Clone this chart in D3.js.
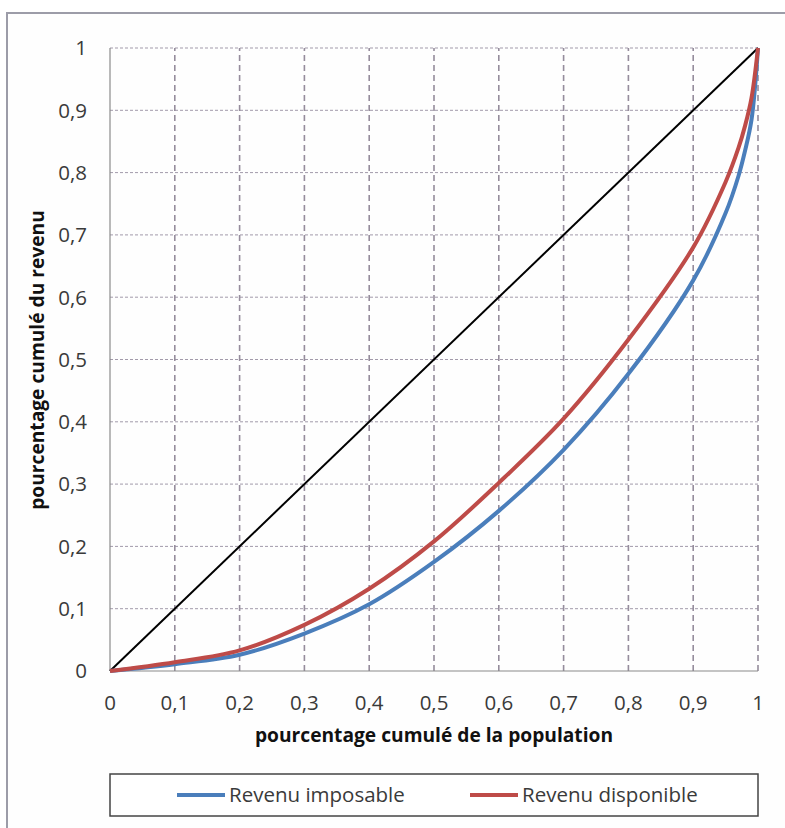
<!DOCTYPE html>
<html><head><meta charset="utf-8">
<script src="https://cdn.jsdelivr.net/npm/d3@7"></script>
<style>
html,body{margin:0;padding:0;background:#fff;}
svg{display:block;}
text{font-family:"Open Sans", sans-serif;}
</style></head>
<body>
<svg id="chart" width="785" height="828"></svg>
<script>
// Data
const xTicks = [0,0.1,0.2,0.3,0.4,0.5,0.6,0.7,0.8,0.9,1];
const yTicks = [0,0.1,0.2,0.3,0.4,0.5,0.6,0.7,0.8,0.9,1];
const popShare = [0,0.1,0.2,0.3,0.4,0.5,0.6,0.7,0.8,0.9,0.95,0.97,0.98,0.99,1];
const revenuImposable = [0,0.011,0.026,0.06,0.107,0.175,0.257,0.355,0.477,0.627,0.735,0.795,0.835,0.885,1];
const revenuDisponible = [0,0.014,0.033,0.074,0.132,0.208,0.302,0.405,0.532,0.68,0.785,0.84,0.875,0.92,1];
const egalite = [[0,0],[1,1]];
const seriesNames = ["Revenu imposable","Revenu disponible"];
const seriesColors = ["#4a7ebb","#be4b48"];
const xTitle = "pourcentage cumulé de la population";
const yTitle = "pourcentage cumulé du revenu";

const svg = d3.select("#chart");
const fmt = v => String(v).replace(".", ",");

// outer frame
svg.append("rect").attr("x",7).attr("y",13).attr("width",800).attr("height",840)
  .attr("fill","#fefefe").attr("stroke","#9c9ca8").attr("stroke-width",2);

const x = d3.scaleLinear().domain([0,1]).range([110,758]);
const y = d3.scaleLinear().domain([0,1]).range([671,48]);

// horizontal grid
svg.append("g").selectAll("line").data(yTicks.filter(d=>d>0)).join("line")
  .attr("x1",x(0)).attr("x2",x(1)).attr("y1",d=>y(d)).attr("y2",d=>y(d))
  .attr("stroke","#a29aaa").attr("stroke-width",1).attr("stroke-dasharray","3,2");
// vertical grid
svg.append("g").selectAll("line").data(xTicks.filter(d=>d>0)).join("line")
  .attr("x1",d=>x(d)).attr("x2",d=>x(d)).attr("y1",y(0)).attr("y2",y(1))
  .attr("stroke","#958c9c").attr("stroke-width",1.6).attr("stroke-dasharray","6,4");

// axes lines
svg.append("line").attr("x1",x(0)).attr("x2",x(0)).attr("y1",y(0)).attr("y2",y(1))
  .attr("stroke","#8a8a8a").attr("stroke-width",1.2);
svg.append("line").attr("x1",x(0)).attr("x2",x(1)).attr("y1",y(0)).attr("y2",y(0))
  .attr("stroke","#8a8a8a").attr("stroke-width",1.2);

// tick labels
svg.append("g").selectAll("text").data(yTicks).join("text")
  .attr("x",87).attr("y",d=>y(d)).attr("dy","0.36em").attr("text-anchor","end")
  .attr("font-size",20.5).attr("fill","#3a3a3a").text(fmt);
svg.append("g").selectAll("text").data(xTicks).join("text")
  .attr("x",d=>x(d)).attr("y",703).attr("dy","0.36em").attr("text-anchor","middle")
  .attr("font-size",20.5).attr("fill","#3a3a3a").text(fmt);

// titles
svg.append("text").attr("x",434).attr("y",742).attr("text-anchor","middle")
  .attr("font-size",19.2).attr("font-weight","bold").attr("fill","#111").text(xTitle);
svg.append("text").attr("transform","translate(44,360) rotate(-90)").attr("text-anchor","middle")
  .attr("font-size",19.2).attr("font-weight","bold").attr("fill","#111").text(yTitle);

// equality line
const lineGen = d3.line().x(d=>x(d[0])).y(d=>y(d[1]));
svg.append("path").attr("d",lineGen(egalite)).attr("fill","none")
  .attr("stroke","#000").attr("stroke-width",2);

// Lorenz curves
const curveGen = d3.line().x(d=>x(d[0])).y(d=>y(d[1])).curve(d3.curveCatmullRom.alpha(0.5));
[revenuImposable, revenuDisponible].forEach((vals,i)=>{
  svg.append("path").attr("d",curveGen(popShare.map((p,j)=>[p,vals[j]])))
    .attr("fill","none").attr("stroke",seriesColors[i]).attr("stroke-width",4)
    .attr("stroke-linejoin","round");
});

// legend
svg.append("rect").attr("x",110).attr("y",774).attr("width",648).attr("height",42)
  .attr("fill","#fff").attr("stroke","#444").attr("stroke-width",1.5);
const legX = [177,470];
seriesNames.forEach((n,i)=>{
  svg.append("line").attr("x1",legX[i]).attr("x2",legX[i]+48).attr("y1",795).attr("y2",795)
    .attr("stroke",seriesColors[i]).attr("stroke-width",4);
  svg.append("text").attr("x",legX[i]+52).attr("y",795).attr("dy","0.36em")
    .attr("font-size",20.5).attr("fill","#3a3a3a").text(n);
});
</script>
</body></html>
